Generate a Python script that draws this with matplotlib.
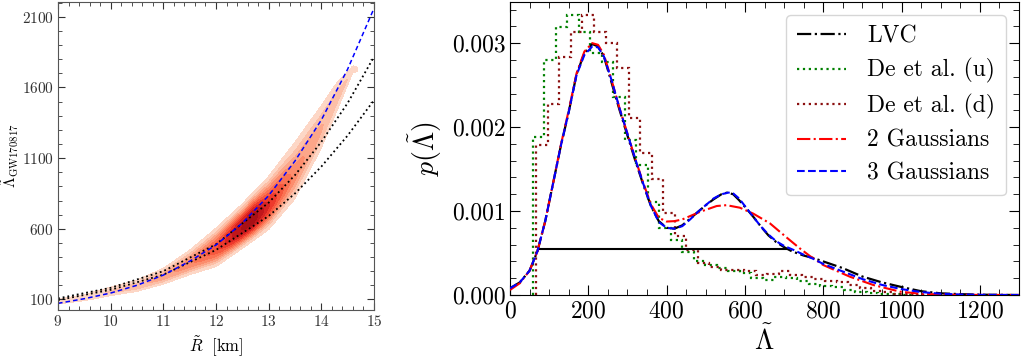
import numpy as np
import matplotlib
matplotlib.use('Agg')
import matplotlib.pyplot as plt
from matplotlib.ticker import MultipleLocator, FormatStrFormatter
from matplotlib.colors import ListedColormap

plt.rcParams['font.family'] = 'serif'
plt.rcParams['font.serif'] = ['cmr10']
plt.rcParams['mathtext.fontset'] = 'cm'
plt.rcParams['axes.formatter.use_mathtext'] = True
plt.rcParams['axes.unicode_minus'] = False

# ---------------- Left panel data ----------------
# posterior band along R~
band_R = [9.0, 9.5, 10.0, 10.5, 11.0, 11.5, 12.0, 12.5, 13.0, 13.5, 14.0, 14.3, 14.6]
band_lo = [62, 85, 120, 150, 200, 265, 320, 450, 580, 790, 1150, 1420, 1700]
band_hi = [108, 140, 195, 245, 330, 460, 620, 790, 990, 1240, 1500, 1660, 1760]
amp_R = [9.0, 9.5, 10.0, 10.5, 11.0, 11.5, 12.0, 12.4, 12.7, 13.0, 13.5, 14.0, 14.3, 14.6, 14.7]
amp_v = [0.05, 0.08, 0.12, 0.18, 0.26, 0.38, 0.58, 0.88, 1.00, 0.72, 0.36, 0.22, 0.15, 0.09, 0.0]

fit_R = [9.0, 9.5, 10.0, 10.5, 11.0, 11.5, 12.0, 12.5, 13.0, 13.5, 14.0, 14.5, 15.0]
fit_blue = [72, 105, 145, 200, 272, 370, 485, 640, 835, 1080, 1370, 1730, 2160]
bnd_R = [9.0, 10.0, 11.0, 12.0, 13.0, 13.5, 14.0, 14.5, 15.0]
bnd_upper = [107, 182, 300, 490, 785, 980, 1215, 1490, 1817]
bnd_lower = [95, 168, 275, 450, 690, 850, 1040, 1260, 1510]

# ---------------- Right panel data ----------------
lvc_lam = [0, 25, 50, 70, 90, 110, 130, 150, 170, 190, 210, 225, 240, 260, 280, 300,
           320, 340, 360, 380, 400, 420, 440, 460, 480, 500, 520, 540, 555, 570, 585,
           600, 620, 640, 660, 680, 700, 720, 750, 775, 800, 850, 900, 950, 1000,
           1050, 1100, 1150, 1200, 1300]
lvc_p = [0.08, 0.15, 0.29, 0.52, 0.88, 1.33, 1.78, 2.18, 2.63, 2.88, 2.99, 2.96, 2.84,
         2.52, 2.20, 1.90, 1.60, 1.32, 1.06, 0.88, 0.80, 0.79, 0.83, 0.91, 0.99, 1.07,
         1.14, 1.20, 1.22, 1.20, 1.13, 1.05, 0.94, 0.82, 0.71, 0.63, 0.57, 0.52, 0.47,
         0.44, 0.40, 0.32, 0.22, 0.15, 0.095, 0.045, 0.02, 0.01, 0.004, 0.0]

g3_lam = [0, 25, 50, 70, 90, 110, 130, 150, 170, 190, 210, 225, 240, 260, 280, 300,
          320, 340, 360, 380, 400, 420, 440, 460, 480, 500, 520, 540, 558, 570, 585,
          600, 620, 640, 660, 680, 700, 725, 750, 775, 800, 850, 900, 950, 1000,
          1050, 1100, 1150, 1200, 1300]
g3_p = [0.08, 0.15, 0.29, 0.52, 0.88, 1.33, 1.78, 2.18, 2.62, 2.86, 2.96, 2.95, 2.84,
        2.55, 2.22, 1.92, 1.62, 1.33, 1.06, 0.87, 0.80, 0.79, 0.82, 0.90, 0.99, 1.07,
        1.15, 1.20, 1.22, 1.21, 1.15, 1.06, 0.94, 0.82, 0.72, 0.64, 0.585, 0.535, 0.48,
        0.43, 0.37, 0.28, 0.19, 0.12, 0.07, 0.035, 0.015, 0.006, 0.002, 0.0]

g2_lam = [0, 25, 50, 70, 90, 110, 130, 150, 170, 190, 210, 225, 240, 260, 280, 300,
          320, 340, 360, 380, 400, 420, 440, 485, 528, 553, 587, 621, 664, 706, 740,
          766, 800, 868, 928, 996, 1055, 1140, 1300]
g2_p = [0.06, 0.14, 0.29, 0.52, 0.88, 1.33, 1.79, 2.20, 2.64, 2.90, 3.00, 2.98, 2.86,
        2.55, 2.22, 1.92, 1.62, 1.34, 1.08, 0.92, 0.875, 0.88, 0.90, 0.99, 1.06, 1.07,
        1.04, 0.97, 0.853, 0.687, 0.556, 0.464, 0.357, 0.218, 0.119, 0.04, 0.012,
        0.002, 0.0]

deu_start, deu_width = 58.0, 29.4
deu_vals = [1.885, 2.80, 3.19, 3.33, 3.13, 2.88, 2.78, 2.36, 1.85, 1.55, 1.11, 0.80,
            0.66, 0.51, 0.41, 0.36, 0.32, 0.29, 0.26, 0.20, 0.18, 0.22, 0.20, 0.17,
            0.13, 0.11, 0.09, 0.06, 0.035, 0.02, 0.012, 0.008, 0.005]
ded_start, ded_width = 67.0, 29.5
ded_vals = [1.79, 2.27, 2.84, 3.13, 3.34, 3.13, 3.00, 2.70, 2.11, 1.69, 1.38, 0.98,
            0.70, 0.54, 0.38, 0.33, 0.30, 0.30, 0.28, 0.24, 0.25, 0.29, 0.24, 0.22,
            0.19, 0.17, 0.15, 0.12, 0.08, 0.05, 0.03, 0.015, 0.008, 0.004, 0.002]

hpd_level = 0.00055
hpd_lo, hpd_hi = 72, 710

xticks_R = [0, 200, 400, 600, 800, 1000, 1200]
yticks_R = [0.000, 0.001, 0.002, 0.003]
xticks_L = [9, 10, 11, 12, 13, 14, 15]
yticks_L = [100, 600, 1100, 1600, 2100]

# ---------------- Figure ----------------
fig = plt.figure(figsize=(10.21, 3.58), dpi=100)
axL = fig.add_axes([58/1021, 48/358, 316/1021, 308/358])
axR = fig.add_axes([510/1021, 63/358, 509/1021, 293/358])

# left: density
Rg = np.linspace(9, 15, 400)
Lg = np.linspace(20, 2210, 600)
RR, LL = np.meshgrid(Rg, Lg)
lo = np.interp(RR, band_R, band_lo)
hi = np.interp(RR, band_R, band_hi)
pk = lo + 0.45 * (hi - lo)
t = np.where(LL < pk, (LL - pk) / (pk - lo), (LL - pk) / (hi - pk))
amp = np.interp(RR, amp_R, amp_v, left=0, right=0)
dens = amp * np.clip(1 - t**2, 0, None)**2.2
levels = np.linspace(0.012, 1.01, 11)
cmap = ListedColormap(plt.cm.Reds(np.linspace(0.16, 0.86, 10)))
axL.contourf(RR, LL, dens, levels=levels, cmap=cmap)

axL.plot(bnd_R, bnd_upper, color='k', ls=':', lw=1.3)
axL.plot(bnd_R, bnd_lower, color='k', ls=':', lw=1.3)
axL.plot(fit_R, fit_blue, color='#0000ff', ls='--', lw=1.1, dashes=(3, 2))

axL.set_xlim(9, 15)
axL.set_ylim(25, 2205)
axL.set_xticks(xticks_L)
axL.set_yticks(yticks_L)
axL.xaxis.set_minor_locator(MultipleLocator(0.2))
axL.yaxis.set_minor_locator(MultipleLocator(100))
axL.tick_params(which='both', direction='in', top=True, right=True, labelsize=11,
                colors='#333333', pad=3)
axL.tick_params(which='major', length=5)
axL.tick_params(which='minor', length=3)
for s in axL.spines.values():
    s.set_color('#555555')
axL.set_xlabel(r'$\tilde{R}\ \ [\mathrm{km}]$', fontsize=12, labelpad=4)
axL.set_ylabel(r'$\tilde{\Lambda}_{\mathrm{GW170817}}$', fontsize=11)
axL.yaxis.set_label_coords(-0.118, 0.5)

# right panel
edges_u = deu_start + deu_width * np.arange(len(deu_vals) + 1)
edges_d = ded_start + ded_width * np.arange(len(ded_vals) + 1)
h_u = axR.stairs(np.array(deu_vals) * 1e-3, edges_u, color='green', ls=':', lw=1.6,
                 label='De et al. (u)', zorder=2)
h_d = axR.stairs(np.array(ded_vals) * 1e-3, edges_d, color='#8b1010', ls=':', lw=1.6,
                 label='De et al. (d)', zorder=2)
axR.hlines(hpd_level, hpd_lo, hpd_hi, color='k', lw=1.5, zorder=3)
h_lvc, = axR.plot(lvc_lam, np.array(lvc_p) * 1e-3, color='k', ls='-.', lw=1.6,
                  label='LVC', zorder=4)
h_g2, = axR.plot(g2_lam, np.array(g2_p) * 1e-3, color='#ff0000', ls='-.', lw=1.5,
                 label='2 Gaussians', zorder=5)
h_g3, = axR.plot(g3_lam, np.array(g3_p) * 1e-3, color='#0000ff', ls='--', lw=1.5,
                 label='3 Gaussians', zorder=6)

axR.set_xlim(0, 1300)
axR.set_ylim(0, 0.00349)
axR.set_xticks(xticks_R)
axR.set_yticks(yticks_R)
axR.yaxis.set_major_formatter(FormatStrFormatter('%.3f'))
axR.xaxis.set_minor_locator(MultipleLocator(50))
axR.yaxis.set_minor_locator(MultipleLocator(0.0002))
axR.tick_params(which='both', direction='in', top=True, right=True, labelsize=17)
axR.tick_params(which='major', length=7, pad=4)
axR.tick_params(which='minor', length=4)
axR.tick_params(axis='y', pad=3)
axR.set_xlabel(r'$\tilde{\Lambda}$', fontsize=20, labelpad=2)
axR.set_ylabel(r'$p(\tilde{\Lambda})$', fontsize=20, labelpad=6)

axR.legend(handles=[h_lvc, h_u, h_d, h_g2, h_g3], loc='upper right', fontsize=17,
           handlelength=2.1, handletextpad=0.9, borderpad=0.45, labelspacing=0.45,
           borderaxespad=0.55, fancybox=True, framealpha=0.8)

fig.savefig('out.png', dpi=100)
